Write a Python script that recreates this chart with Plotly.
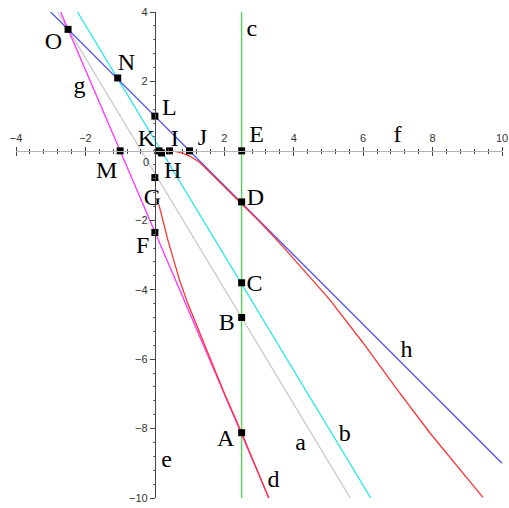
import plotly.graph_objects as go

# pontos marcados (quadrados pretos)
nomes = ["O", "N", "L", "K", "H", "I", "J", "E", "M", "G", "F", "D", "C", "B", "A"]
pts_x = [-2.5, -1.07, 0.0, 0.12, 0.19, 0.42, 1.0, 2.5, -1.0, 0.0, 0.0, 2.5, 2.5, 2.5, 2.5]
pts_y = [3.5, 2.1, 1.0, 0.0, -0.06, 0.0, 0.0, 0.0, 0.0, -0.77, -2.35, -1.47, -3.8, -4.8, -8.12]

# posicao dos rotulos de cada ponto
rot_x = [-2.92, -0.82, 0.42, -0.24, 0.51, 0.57, 1.37, 2.93, -1.39, -0.07, -0.35, 2.9, 2.87, 2.07, 2.04]
rot_y = [3.12, 2.51, 1.22, 0.32, -0.6, 0.32, 0.35, 0.44, -0.6, -1.4, -2.76, -1.4, -3.85, -4.98, -8.32]

# retas
a_x, a_y = [-2.8, 5.63], [4.0, -10.0]          # cinza
b_x, b_y = [-2.23, 6.22], [4.0, -10.0]         # ciano
c_x, c_y = [2.5, 2.5], [4.0, -10.0]            # verde
g_x, g_y = [-2.714, 3.286], [4.0, -10.0]       # magenta
h_x, h_y = [-3.0, 10.0], [4.0, -9.0]           # azul

# curva d (dois ramos)
d1_x = [0.45, 0.62, 0.81, 1.0, 1.29, 1.77, 2.25, 2.5, 3.0, 3.69, 5.03, 5.99, 6.96, 7.92, 9.45]
d1_y = [0.0, -0.02, -0.07, -0.15, -0.33, -0.8, -1.27, -1.5, -2.02, -2.76, -4.28, -5.52, -6.85, -8.12, -9.98]
d2_x = [0.115, 0.23, 0.37, 0.52, 0.71, 0.95, 1.19, 1.58, 1.96, 2.5, 3.28]
d2_y = [-1.54, -2.0, -2.55, -3.07, -3.72, -4.4, -5.0, -5.97, -6.88, -8.12, -10.0]

# rotulos das curvas
cur_nomes = ["a", "b", "c", "d", "e", "f", "g", "h"]
cur_x = [4.2, 5.47, 2.79, 3.42, 0.34, 6.99, -2.17, 7.25]
cur_y = [-8.43, -8.19, 3.48, -9.5, -8.93, 0.43, 1.83, -5.77]

fig = go.Figure()

def reta(x, y, cor):
    fig.add_trace(go.Scatter(x=x, y=y, mode="lines", line=dict(color=cor, width=1.3),
                             hoverinfo="skip", showlegend=False))

reta(a_x, a_y, "#c8c8c8")
reta(b_x, b_y, "#22e8e8")
reta(c_x, c_y, "#44dd44")
reta(g_x, g_y, "#ff33ff")
reta(h_x, h_y, "#5555ff")
reta(d1_x, d1_y, "#ff3333")
reta(d2_x, d2_y, "#ff3333")

fig.add_trace(go.Scatter(x=pts_x, y=pts_y, mode="markers",
                         marker=dict(symbol="square", size=7, color="black"),
                         showlegend=False))

fonte = dict(family="Liberation Serif", size=24, color="black")
fig.add_trace(go.Scatter(x=rot_x, y=rot_y, mode="text", text=nomes,
                         textfont=fonte, showlegend=False))
fig.add_trace(go.Scatter(x=cur_x, y=cur_y, mode="text", text=cur_nomes,
                         textfont=fonte, showlegend=False))

# traco vazio para o segundo eixo x (ticks cruzando o eixo)
fig.add_trace(go.Scatter(x=[], y=[], xaxis="x2", yaxis="y2", showlegend=False))

ticks_x = [-4, -2, 2, 4, 6, 8, 10]
ticks_y = [-10, -8, -6, -4, -2, 2, 4]
fonte_ticks = dict(family="Liberation Sans", size=11, color="#333333")
pos_x = 10 / 14
pos_y = 4 / 14

minor_x = dict(tickmode="linear", tick0=0, dtick=0.4, ticks="outside",
               ticklen=2, tickcolor="#444444", showgrid=False)

fig.update_layout(
    width=509, height=508,
    margin=dict(l=16, r=7, t=12, b=10),
    plot_bgcolor="white", paper_bgcolor="white",
    xaxis=dict(range=[-4, 10], anchor="free", position=pos_x, side="top",
               showline=True, linecolor="#b4b4b4", linewidth=1,
               tickmode="array", tickvals=ticks_x, ticks="outside", ticklen=4,
               tickcolor="#444444", tickfont=fonte_ticks, minor=minor_x,
               ticklabeloverflow="allow",
               showgrid=False, zeroline=False, automargin=False),
    xaxis2=dict(range=[-4, 10], overlaying="x", anchor="free", position=pos_x,
                side="bottom", showline=False, tickmode="array", tickvals=ticks_x,
                ticks="outside", ticklen=4, tickcolor="#444444",
                showticklabels=False, minor=minor_x, showgrid=False, zeroline=False),
    yaxis=dict(range=[-10, 4], anchor="free", position=pos_y, side="left",
               showline=True, linecolor="#444444", linewidth=1,
               tickmode="array", tickvals=ticks_y, ticks="outside", ticklen=5,
               tickcolor="#444444", tickfont=fonte_ticks,
               ticklabeloverflow="allow",
               minor=dict(tickmode="linear", tick0=0, dtick=0.4, ticks="outside",
                          ticklen=2, tickcolor="#666666", showgrid=False),
               showgrid=False, zeroline=False, automargin=False),
    yaxis2=dict(range=[-10, 4], overlaying="y", visible=False),
    annotations=[dict(x=0, y=0, xref="x", yref="y", text="0", showarrow=False,
                      xshift=-9, yshift=-11, font=fonte_ticks)],
)

# tira a margem padrao do body para a figura ocupar a janela toda
fig.write_html("out.html", config={"displayModeBar": False},
               post_script="document.body.style.margin='0';")
